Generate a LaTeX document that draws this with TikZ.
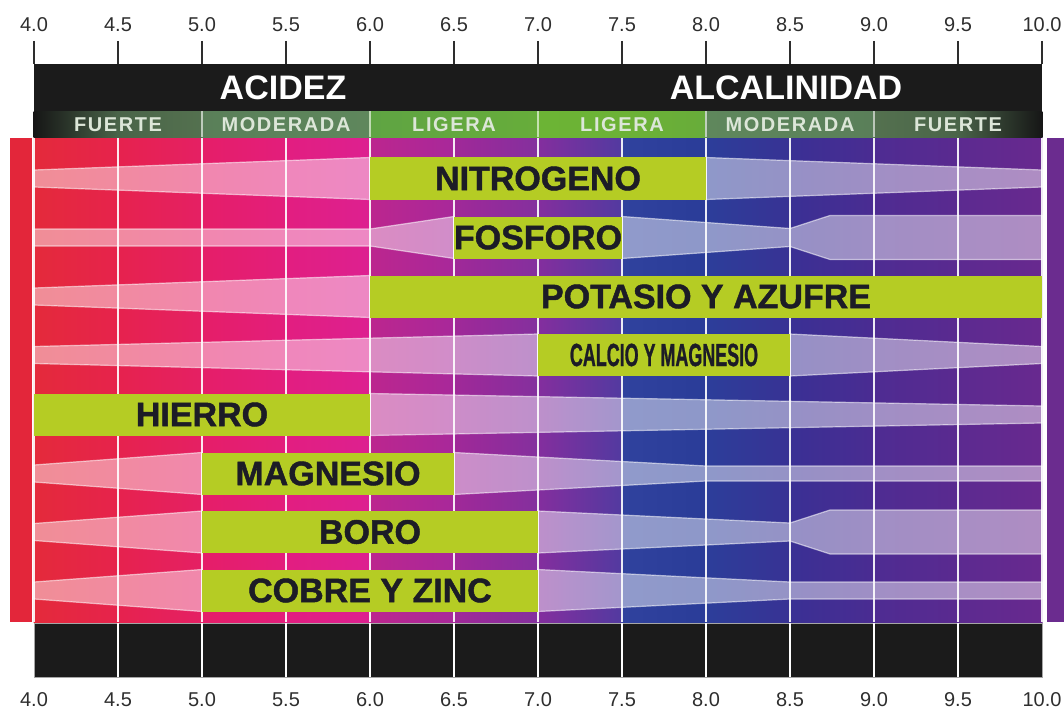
\documentclass[tikz,border=0pt]{standalone}
\usepackage{fontspec}
\usepackage{graphicx}
\setmainfont{Liberation Sans}
\newfontfamily\subfont[LetterSpace=8.0]{Liberation Sans}
\newfontfamily\heavyfont[FakeBold=1.3]{Liberation Sans Bold}
\definecolor{limebox}{RGB}{181,204,36}
\definecolor{boxtext}{HTML}{1C1C26}
\definecolor{redbar}{HTML}{E3263A}
\definecolor{purplebar}{HTML}{6B2C8F}
\definecolor{labgray}{HTML}{2E2E2E}
\definecolor{barblack}{HTML}{1B1B1B}
\definecolor{subtext}{HTML}{DCE6D8}
% background columns
\definecolor{c0l}{HTML}{E42A3B}\definecolor{c0r}{HTML}{E6234C}
\definecolor{c1l}{HTML}{E6224E}\definecolor{c1r}{HTML}{E52064}
\definecolor{c2l}{HTML}{E51E68}\definecolor{c2r}{HTML}{E31E7C}
\definecolor{c3l}{HTML}{E21E80}\definecolor{c3r}{HTML}{DD2090}
\definecolor{c4l}{HTML}{BC268E}\definecolor{c4r}{HTML}{A8289A}
\definecolor{c5l}{HTML}{A02898}\definecolor{c5r}{HTML}{84309E}
\definecolor{c6l}{HTML}{842E9E}\definecolor{c6r}{HTML}{523AA0}
\definecolor{c7l}{HTML}{30429E}\definecolor{c7r}{HTML}{2A3C98}
\definecolor{c8l}{HTML}{2C3E9A}\definecolor{c8r}{HTML}{383294}
\definecolor{c9l}{HTML}{3A3094}\definecolor{c9r}{HTML}{4A2C92}
\definecolor{c10l}{HTML}{4E2C92}\definecolor{c10r}{HTML}{5A2A90}
\definecolor{c11l}{HTML}{5C2A90}\definecolor{c11r}{HTML}{68298F}
% sub band columns
\definecolor{s0l}{HTML}{161616}\definecolor{s0r}{HTML}{4A6449}
\definecolor{s1l}{HTML}{4A6449}\definecolor{s1r}{HTML}{54714F}
\definecolor{s2l}{HTML}{5A7F59}\definecolor{s2r}{HTML}{5C835B}
\definecolor{s3l}{HTML}{5C835B}\definecolor{s3r}{HTML}{5F875C}
\definecolor{s4l}{HTML}{5FA443}\definecolor{s4r}{HTML}{63A83F}
\definecolor{s5l}{HTML}{63A83F}\definecolor{s5r}{HTML}{67AD3A}
\definecolor{s6l}{HTML}{6CB435}\definecolor{s6r}{HTML}{6CB236}
\definecolor{s7l}{HTML}{6CB236}\definecolor{s7r}{HTML}{68AC3A}
\definecolor{s8l}{HTML}{5F875C}\definecolor{s8r}{HTML}{5C835B}
\definecolor{s9l}{HTML}{5C835B}\definecolor{s9r}{HTML}{5A7F59}
\definecolor{s10l}{HTML}{54714F}\definecolor{s10r}{HTML}{4A6449}
\definecolor{s11l}{HTML}{4A6449}\definecolor{s11r}{HTML}{161616}
\begin{document}
\begin{tikzpicture}[x=1pt,y=-1pt,
  gbox/.style={fill=limebox,inner sep=0pt,minimum height=42pt,text=boxtext,font=\heavyfont\fontsize{34}{34}\selectfont},
  band/.style={fill=white,fill opacity=0.47,draw=white,draw opacity=0.55,line width=1.2pt,line join=round},
  gridline/.style={draw=white,draw opacity=0.9,line width=2pt},
  ticklab/.style={text=labgray,font=\fontsize{20}{20}\selectfont,inner sep=0pt},
  sublab/.style={text=subtext,font=\subfont\fontsize{20}{20}\selectfont\bfseries,inner sep=0pt},
  headlab/.style={text=white,font=\fontsize{34}{34}\selectfont\bfseries,inner sep=0pt}]
\useasboundingbox (0,0) rectangle (1064,714);
% side bars
\fill[redbar] (10,138) rectangle (32,622);
\fill[purplebar] (1047,138) rectangle (1064,622);
% background columns
\foreach \i in {0,...,11}
  \fill[left color=c\i l,right color=c\i r] ({34+84*\i-0.5},138) rectangle ({34+84*(\i+1)+0.5},622);
% bands
\def\c{178.5}
\draw[band] (34,\c-8.5) -- (370,\c-21) -- (370,\c+21) -- (34,\c+8.5) -- cycle;
\draw[band] (706,\c-21) -- (1042,\c-8.5) -- (1042,\c+8.5) -- (706,\c+21) -- cycle;
\def\c{237.5}
\draw[band] (34,\c-8.5) -- (370,\c-8.5) -- (454,\c-21) -- (454,\c+21) -- (370,\c+8.5) -- (34,\c+8.5) -- cycle;
\draw[band] (622,\c-21) -- (790,\c-9) -- (830,\c-22) -- (1042,\c-22) -- (1042,\c+22) -- (830,\c+22) -- (790,\c+9) -- (622,\c+21) -- cycle;
\def\c{296.5}
\draw[band] (34,\c-8.5) -- (370,\c-21) -- (370,\c+21) -- (34,\c+8.5) -- cycle;
\def\c{355}
\draw[band] (34,\c-8.5) -- (538,\c-21) -- (538,\c+21) -- (34,\c+8.5) -- cycle;
\draw[band] (790,\c-21) -- (1042,\c-8.5) -- (1042,\c+8.5) -- (790,\c+21) -- cycle;
\def\c{414.5}
\draw[band] (370,\c-21) -- (1042,\c-8.5) -- (1042,\c+8.5) -- (370,\c+21) -- cycle;
\def\c{473.5}
\draw[band] (34,\c-8.5) -- (202,\c-21) -- (202,\c+21) -- (34,\c+8.5) -- cycle;
\draw[band] (454,\c-21) -- (706,\c-7.5) -- (1042,\c-7.5) -- (1042,\c+7.5) -- (706,\c+7.5) -- (454,\c+21) -- cycle;
\def\c{532}
\draw[band] (34,\c-8.5) -- (202,\c-21) -- (202,\c+21) -- (34,\c+8.5) -- cycle;
\draw[band] (538,\c-21) -- (790,\c-9) -- (830,\c-22) -- (1042,\c-22) -- (1042,\c+22) -- (830,\c+22) -- (790,\c+9) -- (538,\c+21) -- cycle;
\def\c{590.5}
\draw[band] (34,\c-8.5) -- (202,\c-21) -- (202,\c+21) -- (34,\c+8.5) -- cycle;
\draw[band] (538,\c-21) -- (790,\c-8.5) -- (1042,\c-8.5) -- (1042,\c+8.5) -- (790,\c+8.5) -- (538,\c+21) -- cycle;
% grid lines
\foreach \k in {0,...,12}
  \draw[gridline] ({34+84*\k},138) -- ({34+84*\k},622);
% green boxes
\node[gbox,minimum width=336pt] (nitro) at (538,178.5) {NITROGENO};
\node[gbox,minimum width=168pt] (fosf) at (538,237.5) {FOSFORO};
\node[gbox,minimum width=672pt] (pota) at (706,296.5) {POTASIO Y AZUFRE};
\node[gbox,minimum width=252pt] (calc) at (664,355) {\scalebox{0.56}[1]{\fontsize{32}{32}\selectfont CALCIO Y MAGNESIO}};
\node[gbox,minimum width=336pt] (hier) at (202,414.5) {HIERRO};
\node[gbox,minimum width=252pt] (magn) at (328,473.5) {MAGNESIO};
\node[gbox,minimum width=336pt] (boro) at (370,532) {BORO};
\node[gbox,minimum width=336pt] (cobre) at (370,590.5) {COBRE Y ZINC};
% top bar
\fill[barblack] (34,64) rectangle (1042,111.5);
\node[headlab] (acid) at (283,88) {ACIDEZ};
\node[headlab] (alca) at (786,88) {ALCALINIDAD};
% sub band
\foreach \i in {0,...,11}
  \fill[left color=s\i l,right color=s\i r] ({34+84*\i-0.3},111.5) rectangle ({34+84*(\i+1)+0.3},137.5);
\foreach \x in {202,370,538,706,874}
  \draw[white,opacity=0.6,line width=1.5pt] (\x,111.5) -- (\x,137.5);
\node[sublab] (s1) at (118,125) {FUERTE};
\node[sublab] (s2) at (286,125) {MODERADA};
\node[sublab] (s3) at (454,125) {LIGERA};
\node[sublab] (s4) at (622,125) {LIGERA};
\node[sublab] (s5) at (790,125) {MODERADA};
\node[sublab] (s6) at (958,125) {FUERTE};
% ticks and labels
\foreach \k/\lab in {0/4.0,1/4.5,2/5.0,3/5.5,4/6.0,5/6.5,6/7.0,7/7.5,8/8.0,9/8.5,10/9.0,11/9.5,12/10.0}{
  \draw[labgray,line width=2pt] ({34+84*\k},41) -- ({34+84*\k},64);
  \node[ticklab] (tl\k) at ({34+84*\k},25) {\lab};
  \node[ticklab] (bl\k) at ({34+84*\k},700) {\lab};
}
% bottom bar
\fill[barblack,draw=gray!70,line width=0.8pt] (34,623) rectangle (1042,677);
\foreach \k in {1,...,11}
  \draw[white,line width=2pt] ({34+84*\k},623) -- ({34+84*\k},677);
\end{tikzpicture}
\end{document}
